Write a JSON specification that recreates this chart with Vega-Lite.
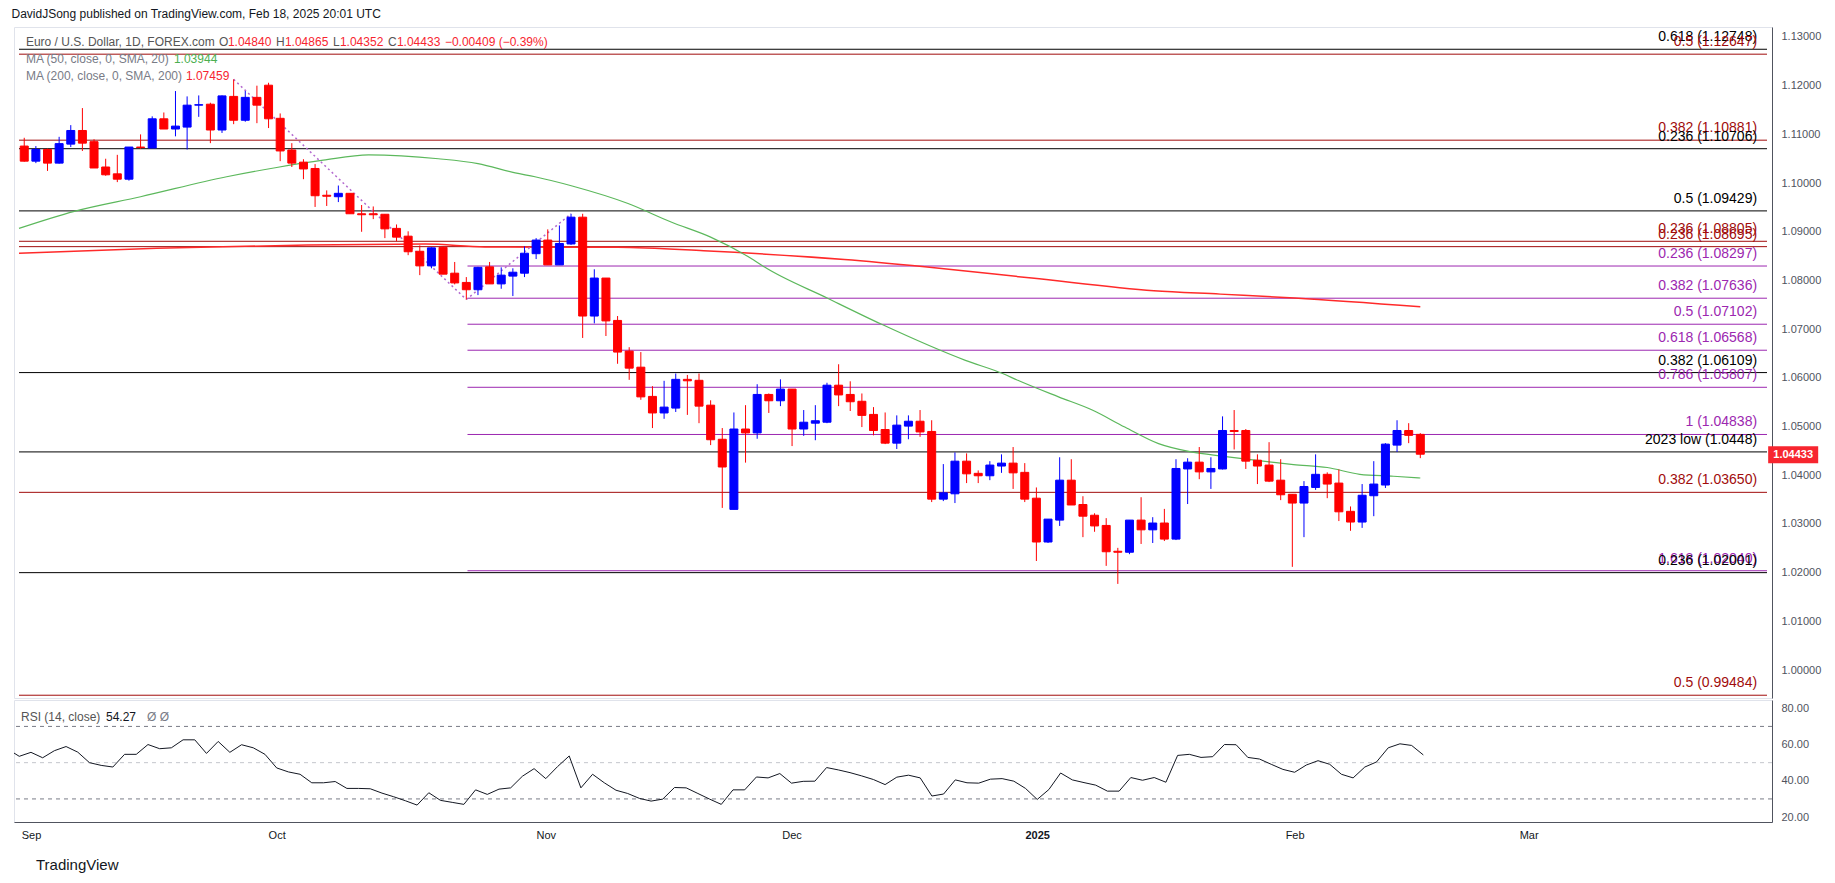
{
  "$schema": "https://vega.github.io/schema/vega-lite/v6.json",
  "background": "#ffffff",
  "padding": {"left": 11, "top": 7, "right": 0, "bottom": 0},
  "title": {
    "text": "DavidJSong published on TradingView.com, Feb 18, 2025 20:01 UTC",
    "anchor": "start",
    "frame": "bounds",
    "fontSize": 12,
    "fontWeight": "normal",
    "color": "#131722",
    "offset": 6
  },
  "config": {
    "font": "Liberation Sans",
    "view": {"stroke": "#e0e3eb"},
    "axis": {
      "grid": false,
      "ticks": false,
      "labelFontSize": 11,
      "labelColor": "#50535e",
      "domainColor": "#50535e",
      "labelOverlap": false,
      "labelFlush": false
    }
  },
  "spacing": 0,
  "datasets": {
    "candles": [
      {"date": "2024-08-30", "i": 0, "o": 1.1076, "h": 1.1093, "l": 1.1044, "c": 1.1045},
      {"date": "2024-09-02", "i": 1, "o": 1.1045, "h": 1.1076, "l": 1.1041, "c": 1.1069},
      {"date": "2024-09-03", "i": 2, "o": 1.1069, "h": 1.1071, "l": 1.1025, "c": 1.1041},
      {"date": "2024-09-04", "i": 3, "o": 1.1041, "h": 1.1095, "l": 1.104, "c": 1.1081},
      {"date": "2024-09-05", "i": 4, "o": 1.108, "h": 1.1119, "l": 1.1074, "c": 1.1108},
      {"date": "2024-09-06", "i": 5, "o": 1.1108, "h": 1.1154, "l": 1.1066, "c": 1.1082},
      {"date": "2024-09-09", "i": 6, "o": 1.1085, "h": 1.109, "l": 1.1031, "c": 1.1031},
      {"date": "2024-09-10", "i": 7, "o": 1.1033, "h": 1.105, "l": 1.1015, "c": 1.1017},
      {"date": "2024-09-11", "i": 8, "o": 1.1019, "h": 1.1058, "l": 1.1002, "c": 1.1008},
      {"date": "2024-09-12", "i": 9, "o": 1.1008, "h": 1.1074, "l": 1.1005, "c": 1.1074},
      {"date": "2024-09-13", "i": 10, "o": 1.1074, "h": 1.11, "l": 1.107, "c": 1.1073},
      {"date": "2024-09-16", "i": 11, "o": 1.1072, "h": 1.1137, "l": 1.1072, "c": 1.1132},
      {"date": "2024-09-17", "i": 12, "o": 1.1132, "h": 1.1145, "l": 1.1111, "c": 1.1111},
      {"date": "2024-09-18", "i": 13, "o": 1.1111, "h": 1.1189, "l": 1.1096, "c": 1.1117},
      {"date": "2024-09-19", "i": 14, "o": 1.1115, "h": 1.1178, "l": 1.1069, "c": 1.116},
      {"date": "2024-09-20", "i": 15, "o": 1.116, "h": 1.118, "l": 1.1136, "c": 1.1161},
      {"date": "2024-09-23", "i": 16, "o": 1.1162, "h": 1.1165, "l": 1.1082, "c": 1.1109},
      {"date": "2024-09-24", "i": 17, "o": 1.1109, "h": 1.118, "l": 1.1103, "c": 1.1179},
      {"date": "2024-09-25", "i": 18, "o": 1.1178, "h": 1.1213, "l": 1.1121, "c": 1.1129},
      {"date": "2024-09-26", "i": 19, "o": 1.1129, "h": 1.1189, "l": 1.1126, "c": 1.1176},
      {"date": "2024-09-27", "i": 20, "o": 1.1176, "h": 1.12, "l": 1.1123, "c": 1.116},
      {"date": "2024-09-30", "i": 21, "o": 1.1201, "h": 1.1206, "l": 1.1113, "c": 1.1132},
      {"date": "2024-10-01", "i": 22, "o": 1.1133, "h": 1.1143, "l": 1.1045, "c": 1.1066},
      {"date": "2024-10-02", "i": 23, "o": 1.1068, "h": 1.1082, "l": 1.1033, "c": 1.1041},
      {"date": "2024-10-03", "i": 24, "o": 1.1043, "h": 1.1049, "l": 1.1008, "c": 1.1029},
      {"date": "2024-10-04", "i": 25, "o": 1.103, "h": 1.1039, "l": 1.0951, "c": 1.0974},
      {"date": "2024-10-07", "i": 26, "o": 1.0975, "h": 1.0985, "l": 1.0953, "c": 1.0973},
      {"date": "2024-10-08", "i": 27, "o": 1.0972, "h": 1.0995, "l": 1.0961, "c": 1.0979},
      {"date": "2024-10-09", "i": 28, "o": 1.0979, "h": 1.0979, "l": 1.0937, "c": 1.0937},
      {"date": "2024-10-10", "i": 29, "o": 1.0937, "h": 1.0955, "l": 1.09, "c": 1.0935},
      {"date": "2024-10-11", "i": 30, "o": 1.0937, "h": 1.0952, "l": 1.0926, "c": 1.0935},
      {"date": "2024-10-14", "i": 31, "o": 1.0936, "h": 1.0936, "l": 1.0887, "c": 1.0906},
      {"date": "2024-10-15", "i": 32, "o": 1.0907, "h": 1.0915, "l": 1.0881, "c": 1.0889},
      {"date": "2024-10-16", "i": 33, "o": 1.0891, "h": 1.0901, "l": 1.0852, "c": 1.0859},
      {"date": "2024-10-17", "i": 34, "o": 1.086, "h": 1.0872, "l": 1.0811, "c": 1.083},
      {"date": "2024-10-18", "i": 35, "o": 1.083, "h": 1.0868, "l": 1.0825, "c": 1.0867},
      {"date": "2024-10-21", "i": 36, "o": 1.0868, "h": 1.087, "l": 1.0813, "c": 1.0813},
      {"date": "2024-10-22", "i": 37, "o": 1.0815, "h": 1.0838, "l": 1.0792, "c": 1.0795},
      {"date": "2024-10-23", "i": 38, "o": 1.0796, "h": 1.0807, "l": 1.0761, "c": 1.0781},
      {"date": "2024-10-24", "i": 39, "o": 1.0781, "h": 1.0828, "l": 1.077, "c": 1.0827},
      {"date": "2024-10-25", "i": 40, "o": 1.0828, "h": 1.0838, "l": 1.0793, "c": 1.0793},
      {"date": "2024-10-28", "i": 41, "o": 1.0793, "h": 1.0827, "l": 1.0783, "c": 1.0811},
      {"date": "2024-10-29", "i": 42, "o": 1.0809, "h": 1.0825, "l": 1.0768, "c": 1.0817},
      {"date": "2024-10-30", "i": 43, "o": 1.0815, "h": 1.087, "l": 1.0807, "c": 1.0856},
      {"date": "2024-10-31", "i": 44, "o": 1.0855, "h": 1.0887, "l": 1.0844, "c": 1.0883},
      {"date": "2024-11-01", "i": 45, "o": 1.0883, "h": 1.0905, "l": 1.0832, "c": 1.0832},
      {"date": "2024-11-04", "i": 46, "o": 1.0832, "h": 1.0913, "l": 1.0832, "c": 1.0876},
      {"date": "2024-11-05", "i": 47, "o": 1.0875, "h": 1.0937, "l": 1.0873, "c": 1.093},
      {"date": "2024-11-06", "i": 48, "o": 1.093, "h": 1.0937, "l": 1.0682, "c": 1.0727},
      {"date": "2024-11-07", "i": 49, "o": 1.0727, "h": 1.0823, "l": 1.0712, "c": 1.0805},
      {"date": "2024-11-08", "i": 50, "o": 1.0805, "h": 1.0805, "l": 1.0686, "c": 1.0717},
      {"date": "2024-11-11", "i": 51, "o": 1.0718, "h": 1.0727, "l": 1.0629, "c": 1.0653},
      {"date": "2024-11-12", "i": 52, "o": 1.0655, "h": 1.0663, "l": 1.0596, "c": 1.062},
      {"date": "2024-11-13", "i": 53, "o": 1.0622, "h": 1.0653, "l": 1.0555, "c": 1.0561},
      {"date": "2024-11-14", "i": 54, "o": 1.0562, "h": 1.0583, "l": 1.0497, "c": 1.0528},
      {"date": "2024-11-15", "i": 55, "o": 1.0528, "h": 1.0594, "l": 1.0516, "c": 1.054},
      {"date": "2024-11-18", "i": 56, "o": 1.0538, "h": 1.0609, "l": 1.053, "c": 1.0597},
      {"date": "2024-11-19", "i": 57, "o": 1.0597, "h": 1.0606, "l": 1.0524, "c": 1.0594},
      {"date": "2024-11-20", "i": 58, "o": 1.0595, "h": 1.0609, "l": 1.0507, "c": 1.0542},
      {"date": "2024-11-21", "i": 59, "o": 1.0544, "h": 1.0554, "l": 1.0462, "c": 1.0473},
      {"date": "2024-11-22", "i": 60, "o": 1.0474, "h": 1.0497, "l": 1.0333, "c": 1.0417},
      {"date": "2024-11-25", "i": 61, "o": 1.033, "h": 1.0529, "l": 1.033, "c": 1.0495},
      {"date": "2024-11-26", "i": 62, "o": 1.0495, "h": 1.0544, "l": 1.0426, "c": 1.0487},
      {"date": "2024-11-27", "i": 63, "o": 1.0487, "h": 1.0587, "l": 1.0475, "c": 1.0566},
      {"date": "2024-11-28", "i": 64, "o": 1.0566, "h": 1.0568, "l": 1.0528, "c": 1.0553},
      {"date": "2024-11-29", "i": 65, "o": 1.0553, "h": 1.0597, "l": 1.0542, "c": 1.0577},
      {"date": "2024-12-02", "i": 66, "o": 1.0577, "h": 1.0577, "l": 1.046, "c": 1.0495},
      {"date": "2024-12-03", "i": 67, "o": 1.0495, "h": 1.0534, "l": 1.0481, "c": 1.0509},
      {"date": "2024-12-04", "i": 68, "o": 1.0507, "h": 1.0544, "l": 1.0472, "c": 1.0512},
      {"date": "2024-12-05", "i": 69, "o": 1.0509, "h": 1.059, "l": 1.0507, "c": 1.0585},
      {"date": "2024-12-06", "i": 70, "o": 1.0585, "h": 1.0628, "l": 1.0542, "c": 1.0565},
      {"date": "2024-12-09", "i": 71, "o": 1.0566, "h": 1.0593, "l": 1.0532, "c": 1.0551},
      {"date": "2024-12-10", "i": 72, "o": 1.0552, "h": 1.0568, "l": 1.0499, "c": 1.0523},
      {"date": "2024-12-11", "i": 73, "o": 1.0525, "h": 1.054, "l": 1.0482, "c": 1.0492},
      {"date": "2024-12-12", "i": 74, "o": 1.0494, "h": 1.0529, "l": 1.0464, "c": 1.0466},
      {"date": "2024-12-13", "i": 75, "o": 1.0466, "h": 1.0523, "l": 1.0454, "c": 1.0503},
      {"date": "2024-12-16", "i": 76, "o": 1.0501, "h": 1.0523, "l": 1.0474, "c": 1.0511},
      {"date": "2024-12-17", "i": 77, "o": 1.0511, "h": 1.0534, "l": 1.0479, "c": 1.0489},
      {"date": "2024-12-18", "i": 78, "o": 1.049, "h": 1.0513, "l": 1.0345, "c": 1.0351},
      {"date": "2024-12-19", "i": 79, "o": 1.0351, "h": 1.0423, "l": 1.0347, "c": 1.0364},
      {"date": "2024-12-20", "i": 80, "o": 1.0362, "h": 1.0447, "l": 1.0343, "c": 1.0429},
      {"date": "2024-12-23", "i": 81, "o": 1.0429, "h": 1.0445, "l": 1.0384, "c": 1.0403},
      {"date": "2024-12-24", "i": 82, "o": 1.0404, "h": 1.041, "l": 1.0384, "c": 1.0399},
      {"date": "2024-12-26", "i": 83, "o": 1.0399, "h": 1.0429, "l": 1.039, "c": 1.0421},
      {"date": "2024-12-27", "i": 84, "o": 1.0419, "h": 1.0443, "l": 1.0405, "c": 1.0425},
      {"date": "2024-12-30", "i": 85, "o": 1.0425, "h": 1.0458, "l": 1.0372, "c": 1.0405},
      {"date": "2024-12-31", "i": 86, "o": 1.0406, "h": 1.0425, "l": 1.0345, "c": 1.0351},
      {"date": "2025-01-02", "i": 87, "o": 1.0353, "h": 1.0375, "l": 1.0224, "c": 1.0263},
      {"date": "2025-01-03", "i": 88, "o": 1.0263, "h": 1.031, "l": 1.0261, "c": 1.031},
      {"date": "2025-01-06", "i": 89, "o": 1.0308, "h": 1.0437, "l": 1.0296, "c": 1.039},
      {"date": "2025-01-07", "i": 90, "o": 1.039, "h": 1.0433, "l": 1.0339, "c": 1.0339},
      {"date": "2025-01-08", "i": 91, "o": 1.034, "h": 1.0357, "l": 1.0273, "c": 1.0316},
      {"date": "2025-01-09", "i": 92, "o": 1.0318, "h": 1.0322, "l": 1.0284, "c": 1.0296},
      {"date": "2025-01-10", "i": 93, "o": 1.0297, "h": 1.0312, "l": 1.0214, "c": 1.0243},
      {"date": "2025-01-13", "i": 94, "o": 1.0244, "h": 1.0251, "l": 1.0177, "c": 1.0242},
      {"date": "2025-01-14", "i": 95, "o": 1.0242, "h": 1.0308, "l": 1.0238, "c": 1.0308},
      {"date": "2025-01-15", "i": 96, "o": 1.0308, "h": 1.0355, "l": 1.0259, "c": 1.0288},
      {"date": "2025-01-16", "i": 97, "o": 1.0288, "h": 1.0314, "l": 1.0261, "c": 1.0302},
      {"date": "2025-01-17", "i": 98, "o": 1.0302, "h": 1.0331, "l": 1.0265, "c": 1.0269},
      {"date": "2025-01-20", "i": 99, "o": 1.0269, "h": 1.0433, "l": 1.0267, "c": 1.0414},
      {"date": "2025-01-21", "i": 100, "o": 1.0413, "h": 1.0435, "l": 1.0341, "c": 1.0427},
      {"date": "2025-01-22", "i": 101, "o": 1.0427, "h": 1.0458, "l": 1.0392, "c": 1.0407},
      {"date": "2025-01-23", "i": 102, "o": 1.0407, "h": 1.0437, "l": 1.0372, "c": 1.0414},
      {"date": "2025-01-24", "i": 103, "o": 1.0413, "h": 1.0521, "l": 1.0412, "c": 1.0492},
      {"date": "2025-01-27", "i": 104, "o": 1.0492, "h": 1.0534, "l": 1.0453, "c": 1.049},
      {"date": "2025-01-28", "i": 105, "o": 1.0492, "h": 1.0495, "l": 1.0413, "c": 1.0429},
      {"date": "2025-01-29", "i": 106, "o": 1.0431, "h": 1.0443, "l": 1.0382, "c": 1.0419},
      {"date": "2025-01-30", "i": 107, "o": 1.0421, "h": 1.0468, "l": 1.0386, "c": 1.0388},
      {"date": "2025-01-31", "i": 108, "o": 1.039, "h": 1.0433, "l": 1.0349, "c": 1.036},
      {"date": "2025-02-03", "i": 109, "o": 1.0361, "h": 1.0361, "l": 1.0212, "c": 1.0343},
      {"date": "2025-02-04", "i": 110, "o": 1.0343, "h": 1.0388, "l": 1.0273, "c": 1.0377},
      {"date": "2025-02-05", "i": 111, "o": 1.0375, "h": 1.0443, "l": 1.037, "c": 1.0402},
      {"date": "2025-02-06", "i": 112, "o": 1.0402, "h": 1.0406, "l": 1.0353, "c": 1.0382},
      {"date": "2025-02-07", "i": 113, "o": 1.0384, "h": 1.0412, "l": 1.0306, "c": 1.0325},
      {"date": "2025-02-10", "i": 114, "o": 1.0326, "h": 1.0336, "l": 1.0286, "c": 1.0304},
      {"date": "2025-02-11", "i": 115, "o": 1.0304, "h": 1.0382, "l": 1.0292, "c": 1.0359},
      {"date": "2025-02-12", "i": 116, "o": 1.0358, "h": 1.0429, "l": 1.0316, "c": 1.0382},
      {"date": "2025-02-13", "i": 117, "o": 1.038, "h": 1.0466, "l": 1.0374, "c": 1.0464},
      {"date": "2025-02-14", "i": 118, "o": 1.0462, "h": 1.0513, "l": 1.0448, "c": 1.0492},
      {"date": "2025-02-17", "i": 119, "o": 1.0492, "h": 1.0507, "l": 1.0466, "c": 1.0482},
      {"date": "2025-02-18", "i": 120, "o": 1.0484, "h": 1.04865, "l": 1.04352, "c": 1.04433}
    ],
    "ma50": [
      {"i": -0.45, "v": 1.0907}, {"i": 4.3, "v": 1.0942}, {"i": 10, "v": 1.0972},
      {"i": 17.4, "v": 1.1013}, {"i": 21.7, "v": 1.1032}, {"i": 25.7, "v": 1.1047},
      {"i": 29.6, "v": 1.1058}, {"i": 35.6, "v": 1.105}, {"i": 39, "v": 1.104},
      {"i": 42.2, "v": 1.1021}, {"i": 43.9, "v": 1.1013}, {"i": 47.1, "v": 1.0994},
      {"i": 51.9, "v": 1.0958}, {"i": 55.6, "v": 1.092}, {"i": 59, "v": 1.0889},
      {"i": 62.7, "v": 1.0842}, {"i": 63.6, "v": 1.0828}, {"i": 69.1, "v": 1.0763},
      {"i": 73.7, "v": 1.071}, {"i": 80.9, "v": 1.0636}, {"i": 84.1, "v": 1.0609},
      {"i": 85.4, "v": 1.0595}, {"i": 88.9, "v": 1.0561}, {"i": 91.8, "v": 1.0534},
      {"i": 94.6, "v": 1.0499}, {"i": 97.5, "v": 1.0465}, {"i": 100.3, "v": 1.0448},
      {"i": 103.1, "v": 1.0439}, {"i": 107.2, "v": 1.0427}, {"i": 109.1, "v": 1.0422},
      {"i": 112, "v": 1.0416}, {"i": 114.8, "v": 1.0402}, {"i": 117.7, "v": 1.0398},
      {"i": 120, "v": 1.03944}
    ],
    "ma200": [
      {"i": -0.45, "v": 1.0856}, {"i": 11.4, "v": 1.0866}, {"i": 24.3, "v": 1.0873},
      {"i": 34.5, "v": 1.0875}, {"i": 39.6, "v": 1.0869}, {"i": 51, "v": 1.0868},
      {"i": 58.4, "v": 1.0861}, {"i": 70.5, "v": 1.0843}, {"i": 77.4, "v": 1.0828},
      {"i": 86.6, "v": 1.0805}, {"i": 97.1, "v": 1.0779}, {"i": 102.8, "v": 1.0772},
      {"i": 109.2, "v": 1.0764}, {"i": 120, "v": 1.07459}
    ],
    "trend": [
      {"seg": "a", "i": 18, "p": 1.1213}, {"seg": "a", "i": 38, "p": 1.0761},
      {"seg": "b", "i": 38, "p": 1.0761}, {"seg": "b", "i": 47, "p": 1.0937}
    ],
    "fib": [
      {"label": "0.618 (1.12748)", "price": 1.12748, "set": "black", "start": -0.45},
      {"label": "0.5 (1.12647)", "price": 1.12647, "set": "red", "start": -0.45},
      {"label": "0.382 (1.10881)", "price": 1.10881, "set": "red", "start": -0.45},
      {"label": "0.236 (1.10706)", "price": 1.10706, "set": "black", "start": -0.45},
      {"label": "0.5 (1.09429)", "price": 1.09429, "set": "black", "start": -0.45},
      {"label": "0.236 (1.08805)", "price": 1.08805, "set": "red", "start": -0.45},
      {"label": "0.236 (1.08695)", "price": 1.08695, "set": "red", "start": -0.45},
      {"label": "0.236 (1.08297)", "price": 1.08297, "set": "purple", "start": 38.1},
      {"label": "0.382 (1.07636)", "price": 1.07636, "set": "purple", "start": 38.1},
      {"label": "0.5 (1.07102)", "price": 1.07102, "set": "purple", "start": 38.1},
      {"label": "0.618 (1.06568)", "price": 1.06568, "set": "purple", "start": 38.1},
      {"label": "0.382 (1.06109)", "price": 1.06109, "set": "black", "start": -0.45},
      {"label": "0.786 (1.05807)", "price": 1.05807, "set": "purple", "start": 38.1},
      {"label": "1 (1.04838)", "price": 1.04838, "set": "purple", "start": 38.1},
      {"label": "2023 low (1.0448)", "price": 1.0448, "set": "black", "start": -0.45},
      {"label": "0.382 (1.03650)", "price": 1.0365, "set": "red", "start": -0.45},
      {"label": "1.618 (1.02040)", "price": 1.0204, "set": "purple", "start": 38.1},
      {"label": "0.236 (1.02001)", "price": 1.02001, "set": "black", "start": -0.45},
      {"label": "0.5 (0.99484)", "price": 0.99484, "set": "red", "start": -0.45}
    ],
    "rsi": [
      {"i": -0.45, "rsi": 55.3},
      {"i": 0, "rsi": 53.5}, {"i": 1, "rsi": 55.7}, {"i": 2, "rsi": 52.7}, {"i": 3, "rsi": 56.6},
      {"i": 4, "rsi": 58.9}, {"i": 5, "rsi": 55.8}, {"i": 6, "rsi": 50.0}, {"i": 7, "rsi": 48.5},
      {"i": 8, "rsi": 47.6}, {"i": 9, "rsi": 54.6}, {"i": 10, "rsi": 54.6}, {"i": 11, "rsi": 60.0},
      {"i": 12, "rsi": 57.7}, {"i": 13, "rsi": 58.2}, {"i": 14, "rsi": 62.6}, {"i": 15, "rsi": 62.6},
      {"i": 16, "rsi": 55.1}, {"i": 17, "rsi": 61.7}, {"i": 18, "rsi": 55.7}, {"i": 19, "rsi": 59.9},
      {"i": 20, "rsi": 58.2}, {"i": 21, "rsi": 54.6}, {"i": 22, "rsi": 47.1}, {"i": 23, "rsi": 44.9},
      {"i": 24, "rsi": 43.6}, {"i": 25, "rsi": 38.9}, {"i": 26, "rsi": 38.9}, {"i": 27, "rsi": 39.6},
      {"i": 28, "rsi": 35.8}, {"i": 29, "rsi": 35.8}, {"i": 30, "rsi": 35.6}, {"i": 31, "rsi": 33.2},
      {"i": 32, "rsi": 31.2}, {"i": 33, "rsi": 29.0}, {"i": 34, "rsi": 26.6}, {"i": 35, "rsi": 33.4},
      {"i": 36, "rsi": 29.2}, {"i": 37, "rsi": 28.1}, {"i": 38, "rsi": 27.0}, {"i": 39, "rsi": 35.0},
      {"i": 40, "rsi": 32.5}, {"i": 41, "rsi": 35.4}, {"i": 42, "rsi": 36.1}, {"i": 43, "rsi": 42.5},
      {"i": 44, "rsi": 46.7}, {"i": 45, "rsi": 41.2}, {"i": 46, "rsi": 47.8}, {"i": 47, "rsi": 53.7},
      {"i": 48, "rsi": 36.1}, {"i": 49, "rsi": 43.6}, {"i": 50, "rsi": 38.9}, {"i": 51, "rsi": 34.8},
      {"i": 52, "rsi": 33.0}, {"i": 53, "rsi": 30.3}, {"i": 54, "rsi": 28.8}, {"i": 55, "rsi": 29.9},
      {"i": 56, "rsi": 36.3}, {"i": 57, "rsi": 36.1}, {"i": 58, "rsi": 33.0}, {"i": 59, "rsi": 29.9},
      {"i": 60, "rsi": 27.0}, {"i": 61, "rsi": 35.0}, {"i": 62, "rsi": 35.0}, {"i": 63, "rsi": 42.1},
      {"i": 64, "rsi": 41.6}, {"i": 65, "rsi": 44.0}, {"i": 66, "rsi": 38.7}, {"i": 67, "rsi": 39.7},
      {"i": 68, "rsi": 39.8}, {"i": 69, "rsi": 47.3}, {"i": 70, "rsi": 46.0}, {"i": 71, "rsi": 44.5},
      {"i": 72, "rsi": 42.7}, {"i": 73, "rsi": 40.7}, {"i": 74, "rsi": 37.9}, {"i": 75, "rsi": 42.0},
      {"i": 76, "rsi": 43.1}, {"i": 77, "rsi": 41.6}, {"i": 78, "rsi": 31.6}, {"i": 79, "rsi": 32.7},
      {"i": 80, "rsi": 40.5}, {"i": 81, "rsi": 38.9}, {"i": 82, "rsi": 38.7}, {"i": 83, "rsi": 40.9},
      {"i": 84, "rsi": 41.2}, {"i": 85, "rsi": 39.8}, {"i": 86, "rsi": 35.8}, {"i": 87, "rsi": 29.7},
      {"i": 88, "rsi": 35.2}, {"i": 89, "rsi": 44.3}, {"i": 90, "rsi": 40.5}, {"i": 91, "rsi": 39.0},
      {"i": 92, "rsi": 37.6}, {"i": 93, "rsi": 34.3}, {"i": 94, "rsi": 34.3}, {"i": 95, "rsi": 41.8},
      {"i": 96, "rsi": 40.3}, {"i": 97, "rsi": 41.8}, {"i": 98, "rsi": 39.2}, {"i": 99, "rsi": 54.0},
      {"i": 100, "rsi": 54.6}, {"i": 101, "rsi": 52.9}, {"i": 102, "rsi": 53.3}, {"i": 103, "rsi": 60.0},
      {"i": 104, "rsi": 59.9}, {"i": 105, "rsi": 52.9}, {"i": 106, "rsi": 52.0}, {"i": 107, "rsi": 49.1},
      {"i": 108, "rsi": 46.3}, {"i": 109, "rsi": 44.7}, {"i": 110, "rsi": 48.7}, {"i": 111, "rsi": 51.1},
      {"i": 112, "rsi": 49.1}, {"i": 113, "rsi": 43.6}, {"i": 114, "rsi": 41.6}, {"i": 115, "rsi": 47.6},
      {"i": 116, "rsi": 50.4}, {"i": 117, "rsi": 58.2}, {"i": 118, "rsi": 60.4}, {"i": 119, "rsi": 59.5},
      {"i": 120, "rsi": 54.27}
    ]
  },
  "vconcat": [
    {
      "width": 1758,
      "height": 671,
      "data": {"values": [{}]},
      "layer": [
        {
          "data": {"name": "fib"},
          "mark": {"type": "rule", "strokeWidth": 1},
          "encoding": {
            "x": {"field": "start", "type": "quantitative", "scale": {"domain": [-0.45, 149.8], "nice": false, "zero": false}, "axis": null},
            "x2": {"datum": 149.8},
            "y": {
              "field": "price", "type": "quantitative", "title": null,
              "scale": {"domain": [0.99427, 1.13205], "nice": false, "zero": false},
              "axis": {"orient": "right", "values": [1.0, 1.01, 1.02, 1.03, 1.04, 1.05, 1.06, 1.07, 1.08, 1.09, 1.1, 1.11, 1.12, 1.13], "format": ".5f", "labelPadding": 9}
            },
            "color": {"field": "set", "type": "nominal", "scale": {"domain": ["black", "red", "purple"], "range": ["#000000", "#a10c0c", "#9c27b0"]}, "legend": null}
          }
        },
        {
          "data": {"name": "ma200"},
          "mark": {"type": "line", "color": "#ff2a2a", "strokeWidth": 1.5, "interpolate": "monotone"},
          "encoding": {
            "x": {"field": "i", "type": "quantitative", "axis": null},
            "y": {"field": "v", "type": "quantitative", "title": null}
          }
        },
        {
          "data": {"name": "ma50"},
          "mark": {"type": "line", "color": "#5cb85c", "strokeWidth": 1.2, "interpolate": "monotone"},
          "encoding": {
            "x": {"field": "i", "type": "quantitative", "axis": null},
            "y": {"field": "v", "type": "quantitative", "title": null}
          }
        },
        {
          "data": {"name": "trend"},
          "mark": {"type": "line", "color": "#b368cf", "strokeWidth": 1.5, "strokeDash": [2, 3]},
          "encoding": {
            "x": {"field": "i", "type": "quantitative", "axis": null},
            "y": {"field": "p", "type": "quantitative", "title": null},
            "detail": {"field": "seg"}
          }
        },
        {
          "data": {"name": "candles"},
          "mark": {"type": "rule", "strokeWidth": 1},
          "encoding": {
            "x": {"field": "i", "type": "quantitative", "axis": null},
            "y": {"field": "l", "type": "quantitative", "title": null},
            "y2": {"field": "h"},
            "color": {"condition": {"test": "datum.c < datum.o", "value": "#ff0000"}, "value": "#0000ff"}
          }
        },
        {
          "data": {"name": "candles"},
          "mark": {"type": "bar", "size": 8, "strokeWidth": 1},
          "encoding": {
            "x": {"field": "i", "type": "quantitative", "axis": null},
            "y": {"field": "o", "type": "quantitative", "title": null},
            "y2": {"field": "c"},
            "fill": {"condition": {"test": "datum.c < datum.o", "value": "#ff0000"}, "value": "#0000ff"},
            "stroke": {"condition": {"test": "datum.c < datum.o", "value": "#ff0000"}, "value": "#0000ff"}
          }
        },
        {
          "data": {"name": "fib"},
          "mark": {"type": "text", "align": "right", "baseline": "bottom", "dy": -5, "fontSize": 14},
          "encoding": {
            "x": {"datum": 148.95, "axis": null},
            "y": {"field": "price", "type": "quantitative", "title": null},
            "text": {"field": "label"},
            "color": {"field": "set", "type": "nominal", "legend": null}
          }
        },
        {
          "mark": {"type": "text", "align": "left", "baseline": "middle", "fontSize": 12, "color": "#555555"},
          "encoding": {"x": {"datum": 0.145, "axis": null}, "y": {"datum": 1.12898, "title": null}, "text": {"value": "Euro / U.S. Dollar, 1D, FOREX.com"}}
        },
        {
          "mark": {"type": "text", "align": "left", "baseline": "middle", "fontSize": 12, "color": "#555555", "dx": 193},
          "encoding": {"x": {"datum": 0.145, "axis": null}, "y": {"datum": 1.12898, "title": null}, "text": {"value": "O"}}
        },
        {
          "mark": {"type": "text", "align": "left", "baseline": "middle", "fontSize": 12, "color": "#f7252f", "dx": 202},
          "encoding": {"x": {"datum": 0.145, "axis": null}, "y": {"datum": 1.12898, "title": null}, "text": {"value": "1.04840"}}
        },
        {
          "mark": {"type": "text", "align": "left", "baseline": "middle", "fontSize": 12, "color": "#555555", "dx": 250},
          "encoding": {"x": {"datum": 0.145, "axis": null}, "y": {"datum": 1.12898, "title": null}, "text": {"value": "H"}}
        },
        {
          "mark": {"type": "text", "align": "left", "baseline": "middle", "fontSize": 12, "color": "#f7252f", "dx": 259},
          "encoding": {"x": {"datum": 0.145, "axis": null}, "y": {"datum": 1.12898, "title": null}, "text": {"value": "1.04865"}}
        },
        {
          "mark": {"type": "text", "align": "left", "baseline": "middle", "fontSize": 12, "color": "#555555", "dx": 307},
          "encoding": {"x": {"datum": 0.145, "axis": null}, "y": {"datum": 1.12898, "title": null}, "text": {"value": "L"}}
        },
        {
          "mark": {"type": "text", "align": "left", "baseline": "middle", "fontSize": 12, "color": "#f7252f", "dx": 314},
          "encoding": {"x": {"datum": 0.145, "axis": null}, "y": {"datum": 1.12898, "title": null}, "text": {"value": "1.04352"}}
        },
        {
          "mark": {"type": "text", "align": "left", "baseline": "middle", "fontSize": 12, "color": "#555555", "dx": 362},
          "encoding": {"x": {"datum": 0.145, "axis": null}, "y": {"datum": 1.12898, "title": null}, "text": {"value": "C"}}
        },
        {
          "mark": {"type": "text", "align": "left", "baseline": "middle", "fontSize": 12, "color": "#f7252f", "dx": 371},
          "encoding": {"x": {"datum": 0.145, "axis": null}, "y": {"datum": 1.12898, "title": null}, "text": {"value": "1.04433"}}
        },
        {
          "mark": {"type": "text", "align": "left", "baseline": "middle", "fontSize": 12, "color": "#f7252f", "dx": 419},
          "encoding": {"x": {"datum": 0.145, "axis": null}, "y": {"datum": 1.12898, "title": null}, "text": {"value": "−0.00409 (−0.39%)"}}
        },
        {
          "mark": {"type": "text", "align": "left", "baseline": "middle", "fontSize": 12, "color": "#787b86"},
          "encoding": {"x": {"datum": 0.145, "axis": null}, "y": {"datum": 1.12543, "title": null}, "text": {"value": "MA (50, close, 0, SMA, 20)"}}
        },
        {
          "mark": {"type": "text", "align": "left", "baseline": "middle", "fontSize": 12, "color": "#4caf50", "dx": 148},
          "encoding": {"x": {"datum": 0.145, "axis": null}, "y": {"datum": 1.12543, "title": null}, "text": {"value": "1.03944"}}
        },
        {
          "mark": {"type": "text", "align": "left", "baseline": "middle", "fontSize": 12, "color": "#787b86"},
          "encoding": {"x": {"datum": 0.145, "axis": null}, "y": {"datum": 1.12193, "title": null}, "text": {"value": "MA (200, close, 0, SMA, 200)"}}
        },
        {
          "mark": {"type": "text", "align": "left", "baseline": "middle", "fontSize": 12, "color": "#f7252f", "dx": 160},
          "encoding": {"x": {"datum": 0.145, "axis": null}, "y": {"datum": 1.12193, "title": null}, "text": {"value": "1.07459"}}
        },
        {
          "mark": {"type": "rect", "color": "#f7252f"},
          "encoding": {
            "x": {"datum": 149.9, "axis": null}, "x2": {"datum": 154.2},
            "y": {"datum": 1.04596, "title": null}, "y2": {"datum": 1.04247}
          }
        },
        {
          "mark": {"type": "text", "align": "center", "baseline": "middle", "fontSize": 11, "fontWeight": "bold", "color": "#ffffff"},
          "encoding": {"x": {"datum": 152.05, "axis": null}, "y": {"datum": 1.04421, "title": null}, "text": {"value": "1.04433"}}
        }
      ]
    },
    {
      "width": 1758,
      "height": 122,
      "data": {"values": [{}]},
      "title": {"text": "TradingView", "orient": "bottom", "anchor": "start", "fontSize": 15, "fontWeight": "normal", "color": "#131722", "offset": 18, "dx": 24},
      "layer": [
        {
          "data": {"values": [{"level": 70}, {"level": 50}, {"level": 30}]},
          "mark": {"type": "rule", "strokeDash": [4, 4], "strokeWidth": 1},
          "encoding": {
            "y": {
              "field": "level", "type": "quantitative", "title": null,
              "scale": {"domain": [17.27, 84.57], "nice": false, "zero": false},
              "axis": {"orient": "right", "values": [20, 40, 60, 80], "format": ".2f", "labelPadding": 9}
            },
            "color": {"condition": {"test": "datum.level == 50", "value": "#c4c6cc"}, "value": "#787b86"}
          }
        },
        {
          "data": {"name": "rsi"},
          "mark": {"type": "line", "color": "#131722", "strokeWidth": 1},
          "encoding": {
            "x": {
              "field": "i", "type": "quantitative", "title": null,
              "scale": {"domain": [-0.45, 149.8], "nice": false, "zero": false},
              "axis": {
                "orient": "bottom",
                "values": [1, 22, 45, 66, 87, 109, 129],
                "labelExpr": "datum.value == 1 ? 'Sep' : datum.value == 22 ? 'Oct' : datum.value == 45 ? 'Nov' : datum.value == 66 ? 'Dec' : datum.value == 87 ? '2025' : datum.value == 109 ? 'Feb' : 'Mar'",
                "labelPadding": 7,
                "labelFontSize": 11,
                "labelColor": "#131722",
                "labelFontWeight": {"condition": {"test": "datum.value == 87", "value": "bold"}, "value": "normal"}
              }
            },
            "y": {"field": "rsi", "type": "quantitative", "title": null}
          }
        },
        {
          "mark": {"type": "text", "align": "left", "baseline": "middle", "fontSize": 12, "color": "#555555"},
          "encoding": {"x": {"datum": 0.145, "title": null}, "y": {"datum": 75.05, "title": null}, "text": {"value": "RSI (14, close)"}}
        },
        {
          "mark": {"type": "text", "align": "left", "baseline": "middle", "fontSize": 12, "color": "#131722", "dx": 85},
          "encoding": {"x": {"datum": 0.145, "title": null}, "y": {"datum": 75.05, "title": null}, "text": {"value": "54.27"}}
        },
        {
          "mark": {"type": "text", "align": "left", "baseline": "middle", "fontSize": 12, "color": "#787b86", "dx": 126},
          "encoding": {"x": {"datum": 0.145, "title": null}, "y": {"datum": 75.05, "title": null}, "text": {"value": "Ø  Ø"}}
        }
      ]
    }
  ]
}
